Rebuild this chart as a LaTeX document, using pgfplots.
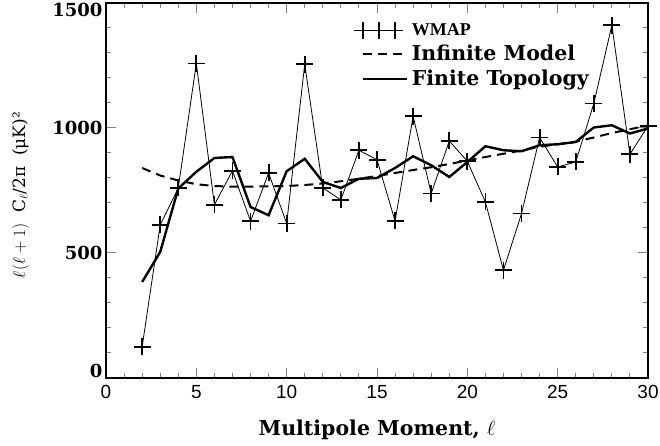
\documentclass[border=0pt]{standalone}
\usepackage{fontspec}
\setmainfont{DejaVu Serif}
\newfontfamily\sansf{Liberation Sans}
\newfontfamily\timesf{Liberation Serif}
\usepackage{pgfplots}
\pgfplotsset{compat=1.18}
\pgfplotsset{
  wmapleg/.style={legend image code/.code={\draw[mark repeat=1,mark phase=1,##1] plot coordinates {(0pt,0pt) (16pt,0pt) (32pt,0pt)};}},
  lineleg/.style={legend image code/.code={\draw[##1] (0pt,0pt) -- (44pt,0pt);}},
}
\begin{document}
\begin{tikzpicture}
\begin{axis}[
  scale only axis,
  width=542pt, height=375pt,
  xmin=0, xmax=30, ymin=0, ymax=1500,
  xtick={0,5,10,15,20,25,30},
  xticklabels={0,5,10,15,20,25,30},
  ytick={500,1000},
  yticklabels={500,1000},
  extra y ticks={28,1472},
  extra y tick labels={0,1500},
  extra y tick style={major tick length=0pt},
  minor xtick={0,1,...,30},
  minor ytick={0,100,...,1500},
  major tick length=10pt, minor tick length=5pt,
  tick style={line width=1pt},
  axis line style={line width=1.4pt},
  tick align=inside,
  xticklabel style={font=\sansf\fontsize{19}{19}\selectfont, yshift=-4pt},
  yticklabel style={font=\bfseries\fontsize{18}{18}\selectfont},
  xlabel={\bfseries Multipole Moment, $\ell$},
  ylabel={$\ell(\ell+1)$~~C$_\ell$/2π~~(μK)²},
  xlabel style={font=\fontsize{20.5}{20.5}\selectfont, at={(axis description cs:0.5,-0.139)}, anchor=center},
  ylabel style={font=\fontsize{17}{17}\selectfont, at={(axis description cs:-0.157,0.488)}, anchor=center},
  legend style={draw=none, fill=none, at={(axis description cs:0.452,0.961)}, anchor=north west,
    font=\bfseries\fontsize{20.5}{20.5}\selectfont, nodes={inner sep=4pt}},
  legend cell align=left,
]
\addplot[black, line width=0.8pt, mark=+, mark size=8.5pt, mark options={line width=1.8pt}, wmapleg]
coordinates {
(2,124)(3,612)(4,760)(5,1258)(6,693)(7,829)(8,627)(9,820)(10,618)(11,1255)
(12,760)(13,713)(14,911)(15,873)(16,628)(17,1047)(18,738)(19,948)(20,867)(21,704)
(22,431)(23,658)(24,962)(25,844)(26,864)(27,1098)(28,1411)(29,895)(30,1008)
};
\addlegendentry{{\timesf\bfseries\fontsize{18}{18}\selectfont WMAP}}
\addplot[black, line width=2pt, dash pattern=on 9pt off 6pt, lineleg]
coordinates {
(2,840)(3,810)(4,790)(5,775)(6,768)(7,765)(8,765)(9,767)(10,768)(11,772)
(12,778)(13,787)(14,797)(15,808)(16,820)(17,832)(18,843)(19,856)(20,870)(21,884)
(22,897)(23,910)(24,925)(25,935)(26,945)(27,962)(28,980)(29,995)(30,1010)
};
\addlegendentry{Infinite Model}
\addplot[black, line width=2.4pt, lineleg]
coordinates {
(2,384)(3,504)(4,758)(5,825)(6,880)(7,884)(8,684)(9,651)(10,827)(11,877)
(12,784)(13,760)(14,797)(15,800)(16,840)(17,887)(18,851)(19,804)(20,864)(21,927)
(22,911)(23,907)(24,931)(25,935)(26,944)(27,1002)(28,1011)(29,978)(30,998)
};
\addlegendentry{Finite Topology}
\end{axis}
\pgfresetboundingbox
\path[use as bounding box] ([xshift=-106pt,yshift=-68pt]current axis.south west) rectangle ([xshift=12pt,yshift=3pt]current axis.north east);
\end{tikzpicture}
\end{document}
